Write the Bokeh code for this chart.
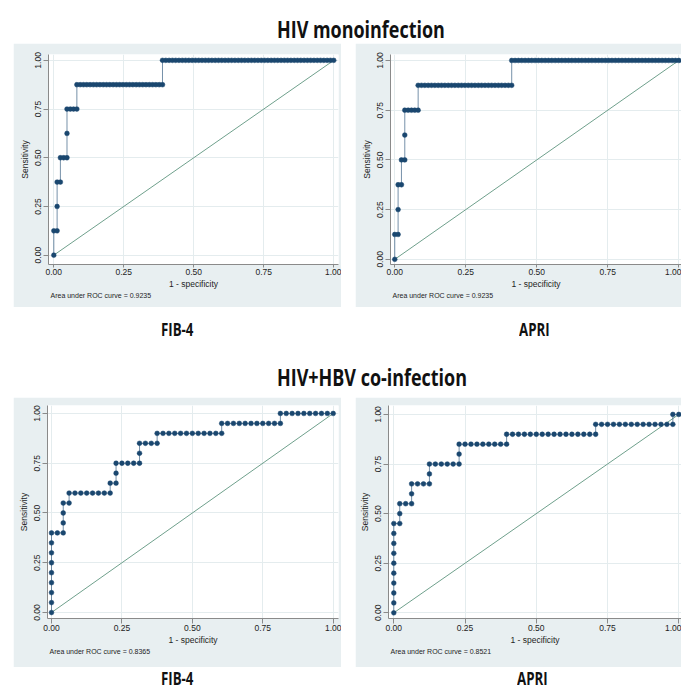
import numpy as np
from bokeh.plotting import figure
from bokeh.layouts import column, row
from bokeh.models import Div, Spacer, FixedTicker, PrintfTickFormatter, Range1d, Title
from bokeh.embed import file_html
from bokeh.resources import INLINE

# Cases sorted by descending marker value, as alternating run lengths:
# a run of diseased cases (step up) followed by a run of non-diseased cases (step right).
mono_fib4_pos = [1, 2, 1, 2, 1, 1]
mono_fib4_neg = [1, 1, 2, 3, 26, 52]
mono_apri_pos = [1, 2, 1, 2, 1, 1]
mono_apri_neg = [1, 1, 1, 4, 28, 50]
co_fib4_pos = [8, 3, 1, 1, 2, 2, 1, 1, 1]
co_fib4_neg = [2, 1, 7, 1, 4, 3, 11, 10, 9]
co_apri_pos = [9, 2, 2, 2, 2, 1, 1, 1]
co_apri_neg = [1, 2, 3, 5, 8, 15, 13, 1]

auc_values = ["0.9235", "0.9235", "0.8365", "0.8521"]
axis_ticks = [0.0, 0.25, 0.5, 0.75, 1.0]
panel_names = ["FIB-4", "APRI"]
section_titles = ["HIV monoinfection", "HIV+HBV co-infection"]

GRAY = "#e8eff1"
NAVY = "#1a476f"
REF = "#6fa08c"
GRID = "#e4ecee"
AXIS = "#8a8a8a"
TXT = "#1e1e1e"
SANS = "Liberation Sans"
HEAD = "'Open Sans', sans-serif"


def roc_points(pos_runs, neg_runs):
    tp, fp = [0], [0]
    for p, n in zip(pos_runs, neg_runs):
        for _ in range(p):
            tp.append(tp[-1] + 1)
            fp.append(fp[-1])
        for _ in range(n):
            tp.append(tp[-1])
            fp.append(fp[-1] + 1)
    return np.array(fp) / sum(neg_runs), np.array(tp) / sum(pos_runs)


def panel(pos, neg, auc, w, h, borders, xr, yr, xtick_out, title_standoff):
    bl, br, bt, bb = borders
    p = figure(width=w, height=h, x_range=Range1d(*xr), y_range=Range1d(*yr),
               output_backend="svg", toolbar_location=None,
               min_border_left=bl, min_border_right=br, min_border_top=bt, min_border_bottom=bb,
               background_fill_color="white", border_fill_color=GRAY,
               outline_line_color=None, margin=0)
    fpr, tpr = roc_points(pos, neg)
    p.line([0, 1], [0, 1], color=REF, line_width=1)
    p.line(fpr, tpr, color=NAVY, line_width=1, line_alpha=0.6)
    p.scatter(fpr, tpr, size=4.8, fill_color=NAVY, line_color=NAVY, line_width=0.5)

    for ax in (p.xaxis[0], p.yaxis[0]):
        ax.ticker = FixedTicker(ticks=axis_ticks)
        ax.formatter = PrintfTickFormatter(format="%.2f")
        ax.minor_tick_line_color = None
        ax.major_tick_in = 0
        ax.major_tick_line_color = AXIS
        ax.axis_line_color = AXIS
        ax.major_label_text_font = SANS
        ax.major_label_text_font_size = "8.5px"
        ax.major_label_text_color = TXT
        ax.axis_label_text_font = SANS
        ax.axis_label_text_font_size = "8.5px"
        ax.axis_label_text_font_style = "normal"
        ax.axis_label_text_color = TXT
    p.xaxis.axis_label = "1 - specificity"
    p.yaxis.axis_label = "Sensitivity"
    p.xaxis.major_tick_out = xtick_out
    p.yaxis.major_tick_out = 5
    p.xaxis.major_label_standoff = 1
    p.xaxis.axis_label_standoff = 1
    p.yaxis.major_label_orientation = "vertical"
    p.yaxis.major_label_standoff = 2
    p.yaxis.axis_label_standoff = 3

    p.xgrid.ticker = FixedTicker(ticks=axis_ticks)
    p.ygrid.ticker = FixedTicker(ticks=axis_ticks)
    p.xgrid.grid_line_color = GRID
    p.ygrid.grid_line_color = GRID

    t = Title(text="Area under ROC curve = " + auc, align="left", offset=2,
              text_font=SANS, text_font_size="7px", text_font_style="normal",
              text_color=TXT, standoff=title_standoff)
    p.add_layout(t, "below")
    return p


def text_div(width, height, items):
    spans = ""
    for txt, left, top, size in items:
        spans += ('<span style="position:absolute;left:%spx;top:%spx;font-size:%spx;'
                  'line-height:1;font-weight:bold;white-space:nowrap;'
                  'transform:scaleX(0.78);transform-origin:0 0;'
                  'color:#111;font-family:%s;">%s</span>') % (left, top, size, HEAD, txt)
    html = '<div style="position:relative;width:%dpx;height:%dpx;">%s</div>' % (width, height, spans)
    return Div(text=html, width=width, height=height, margin=0)


p1 = panel(mono_fib4_pos, mono_fib4_neg, auc_values[0], 328, 264, (35, 3, 11, 40),
           (-0.019, 1.017), (-0.048, 1.030), 3, -3)
p2 = panel(mono_apri_pos, mono_apri_neg, auc_values[1], 326, 264, (35, 0, 9, 43),
           (-0.015, 1.0095), (-0.026, 1.030), 3, -3)
p3 = panel(co_fib4_pos, co_fib4_neg, auc_values[2], 328, 270, (34, 3, 6, 49),
           (-0.0142, 1.0188), (-0.030, 1.040), 5, -3)
p4 = panel(co_apri_pos, co_apri_neg, auc_values[3], 326, 270, (33, 0, 8, 48),
           (-0.0186, 1.0095), (-0.0286, 1.045), 5, -3)

title1 = text_div(681, 43, [(section_titles[0], 277, 17.5, 23)])
mid = text_div(681, 90, [(panel_names[0], 161, 13.5, 17), (panel_names[1], 519, 13.5, 17),
                         (section_titles[1], 277, 58.5, 23)])
bottom = text_div(681, 22, [(panel_names[0], 161, 2.5, 17), (panel_names[1], 517, 2.5, 17)])

layout = column(
    title1,
    row(Spacer(width=13, height=264, margin=0), p1, Spacer(width=14, height=264, margin=0), p2, spacing=0),
    mid,
    row(Spacer(width=13, height=270, margin=0), p3, Spacer(width=14, height=270, margin=0), p4, spacing=0),
    bottom,
    spacing=0,
)

open("out.html", "w").write(file_html(layout, INLINE))
